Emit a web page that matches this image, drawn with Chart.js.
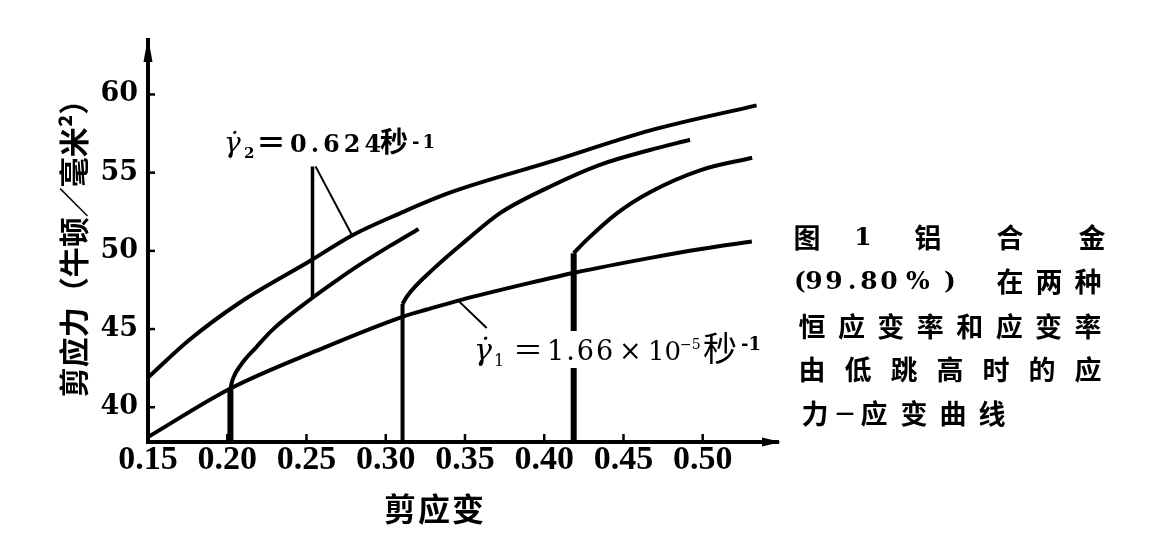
<!DOCTYPE html>
<html>
<head>
<meta charset="utf-8">
<script src="https://cdn.jsdelivr.net/npm/chart.js@4.4.1/dist/chart.umd.min.js"></script>
<style>
  html, body { margin: 0; padding: 0; background: #ffffff; }
  #wrap { width: 1163px; height: 536px; position: relative; }
</style>
</head>
<body>
<div id="wrap"><canvas id="c" width="1163" height="536"></canvas></div>
<script>
// ---------------- data ----------------
// constant high strain rate  γ2 = 0.624 s^-1
const strainA = [0.150, 0.176, 0.208, 0.253, 0.279, 0.309, 0.340, 0.404, 0.467, 0.534];
const stressA = [41.9, 44.3, 46.7, 49.4, 51.0, 52.4, 53.7, 55.7, 57.7, 59.3];
// constant low strain rate  γ1 = 1.66e-5 s^-1
const strainB = [0.150, 0.202, 0.256, 0.311, 0.326, 0.347, 0.391, 0.419, 0.467, 0.498, 0.531];
const stressB = [38.1, 41.2, 43.6, 45.8, 46.25, 46.85, 47.95, 48.6, 49.55, 50.1, 50.6];
// rate jump (low -> high) at strain 0.20
const strainC = [0.202, 0.2035, 0.2085, 0.2184, 0.2285, 0.2538, 0.2689, 0.2834, 0.3024, 0.3207];
const stressC = [41.2, 41.8, 42.7, 43.85, 44.95, 47.0, 48.1, 49.1, 50.3, 51.4];
// rate jump at strain 0.31
const strainD = [0.3106, 0.3135, 0.3296, 0.3511, 0.3719, 0.4035, 0.4351, 0.4667, 0.4920];
const stressD = [46.6, 47.1, 48.8, 50.7, 52.4, 54.1, 55.5, 56.45, 57.1];
// rate jump at strain 0.415
const strainE = [0.4186, 0.4268, 0.4458, 0.4667, 0.4983, 0.5312];
const stressE = [49.85, 50.7, 52.4, 53.75, 55.15, 55.95];
// vertical lines marking the jump strains (from the axis up to the start of each jump curve)
const jumpStrain = [0.2020, 0.3106, 0.4186];
const jumpTop = [41.2, 46.6, 49.85];
// leader lines of the two rate labels
const leader2VertX = [0.2538, 0.2538];
const leader2VertY = [55.4, 47.0];
const leader2DiagX = [0.2557, 0.2790];
const leader2DiagY = [55.4, 50.95];
const leader1X = [0.3454, 0.3637];
const leader1Y = [46.85, 45.07];
// axes
const X_MIN = 0.15, X_MAX = 0.5475, X_STEP = 0.05;
const Y_MIN = 37.78, Y_MAX = 63.48, Y_STEP = 5;
const yTitle = '剪应力（牛顿／毫米²）';
const xTitle = '剪应变';
const captionRows = [
  ['图', '1', '铝', '合', '金'],
  ['(', '9', '9', '.', '8', '0', '%', ')', '在', '两', '种'],
  ['恒', '应', '变', '率', '和', '应', '变', '率'],
  ['由', '低', '跳', '高', '时', '的', '应'],
  ['力', '一', '应', '变', '曲', '线']
];

// ---------------- helpers ----------------
function pts(xs, ys) { return xs.map((v, i) => ({ x: v, y: ys[i] })); }
const curve = { borderColor: '#000', borderWidth: 4, pointRadius: 0, pointHitRadius: 0,
                cubicInterpolationMode: 'monotone', fill: false };
const straight = { borderColor: '#000', pointRadius: 0, pointHitRadius: 0, tension: 0, fill: false };

const CJK = '"Noto Sans CJK SC", sans-serif';
const SERIF = '"DejaVu Serif", serif';

function txt(ctx, t, x, y, font, align, base, ls) {
  ctx.font = font;
  ctx.textAlign = align || 'left';
  ctx.textBaseline = base || 'alphabetic';
  ctx.letterSpacing = ls || '0px';
  ctx.fillText(t, x, y);
  ctx.letterSpacing = '0px';
}

const decor = {
  id: 'decor',
  afterDatasetsDraw(chart) {
    const { ctx } = chart;
    const xs = chart.scales.x, ys = chart.scales.y;
    const x0 = xs.getPixelForValue(X_MIN), xr = xs.getPixelForValue(X_MAX);
    const yb = ys.getPixelForValue(Y_MIN), yt = ys.getPixelForValue(Y_MAX);
    ctx.save();
    ctx.fillStyle = '#000';
    ctx.strokeStyle = '#000';
    // arrow heads
    ctx.beginPath(); ctx.moveTo(xr + 3, yb); ctx.lineTo(xr - 16, yb - 4.5); ctx.lineTo(xr - 16, yb + 4.5); ctx.closePath(); ctx.fill();
    ctx.beginPath(); ctx.moveTo(x0, yt - 3); ctx.lineTo(x0 - 4.5, yt + 22); ctx.lineTo(x0 + 4.5, yt + 22); ctx.closePath(); ctx.fill();
    // inward tick marks
    ctx.lineWidth = 2.5;
    xs.ticks.forEach(t => {
      if (t.value <= X_MIN + 1e-9) return;
      const p = xs.getPixelForValue(t.value);
      ctx.beginPath(); ctx.moveTo(p, yb); ctx.lineTo(p, yb - 8); ctx.stroke();
    });
    ys.ticks.forEach(t => {
      const p = ys.getPixelForValue(t.value);
      ctx.beginPath(); ctx.moveTo(x0, p); ctx.lineTo(x0 + 7, p); ctx.stroke();
    });

    // label  γ2 = 0.624 秒^-1
    txt(ctx, 'γ̇', 224, 152, 'italic 28px ' + SERIF);
    txt(ctx, '2', 244, 158, 'bold 15px ' + SERIF);
    txt(ctx, '＝', 256, 153, 'bold 30px ' + CJK);
    txt(ctx, '0.624', 290, 152, 'bold 24px ' + SERIF, 'left', 'alphabetic', '4px');
    txt(ctx, '秒', 380, 152, 'bold 28px ' + CJK);
    txt(ctx, '-1', 412, 148, 'bold 18px ' + SERIF, 'left', 'alphabetic', '3px');

    // label  γ1 = 1.66×10^-5 秒^-1  (white box leaves the gap in the 0.415 line)
    ctx.fillStyle = '#fff';
    ctx.fillRect(471, 331, 312, 37);
    ctx.fillStyle = '#000';
    txt(ctx, 'γ̇', 474, 360, 'italic 30px ' + SERIF);
    txt(ctx, '1', 494, 366, '16px ' + SERIF);
    txt(ctx, '＝', 513, 361, '30px ' + CJK);
    txt(ctx, '1.66', 547, 360, '27px ' + SERIF, 'left', 'alphabetic', '2px');
    txt(ctx, '×', 619, 360, '27px ' + SERIF);
    txt(ctx, '10', 648, 360, '26px ' + SERIF);
    txt(ctx, '−5', 680, 349, '14px ' + SERIF);
    txt(ctx, '秒', 703, 361, '34px ' + CJK);
    txt(ctx, '-1', 741, 350, 'bold 18px ' + SERIF);

    // x-axis title
    txt(ctx, xTitle, 435, 509, 'bold 32px ' + CJK, 'center', 'middle', '2px');

    // caption
    const capFont = 'bold 27px ' + CJK;
    const digFont = 'bold 25px ' + SERIF;
    const rowY = [238, 282, 327, 370, 414];
    const rowX = [
      [807, 863, 928, 1010, 1092],
      [800, 814, 834, 852, 869, 889, 918, 950, 1010, 1049, 1088],
      null, null,
      [815, 845, 874, 914, 953, 992]
    ];
    captionRows.forEach((row, r) => {
      let xsPos = rowX[r];
      if (!xsPos) {
        const a = 812, b = 1088;
        xsPos = row.map((_, i) => a + (b - a) * i / (row.length - 1));
      }
      row.forEach((ch, i) => {
        const isLatin = /[0-9.%()]/.test(ch);
        const f = isLatin ? digFont : (ch === '一' ? 'bold 18px ' + CJK : capFont);
        txt(ctx, ch, xsPos[i], rowY[r], f, 'center', 'middle');
      });
    });
    ctx.restore();
  }
};

// ---------------- chart ----------------
new Chart(document.getElementById('c'), {
  type: 'line',
  data: {
    datasets: [
      Object.assign({ label: 'γ2 恒应变率', data: pts(strainA, stressA) }, curve),
      Object.assign({ label: 'γ1 恒应变率', data: pts(strainB, stressB) }, curve),
      Object.assign({ label: '0.20 跳高', data: pts(strainC, stressC) }, curve),
      Object.assign({ label: '0.31 跳高', data: pts(strainD, stressD) }, curve),
      Object.assign({ label: '0.415 跳高', data: pts(strainE, stressE) }, curve),
      Object.assign({ label: 'jump 0.20', data: pts([jumpStrain[0], jumpStrain[0]], [Y_MIN, jumpTop[0]]), borderWidth: 6 }, straight),
      Object.assign({ label: 'jump 0.31', data: pts([jumpStrain[1], jumpStrain[1]], [Y_MIN, jumpTop[1]]), borderWidth: 4 }, straight),
      Object.assign({ label: 'jump 0.415', data: pts([jumpStrain[2], jumpStrain[2]], [Y_MIN, jumpTop[2]]), borderWidth: 6 }, straight),
      Object.assign({ label: 'leader γ2 a', data: pts(leader2VertX, leader2VertY), borderWidth: 3.5 }, straight),
      Object.assign({ label: 'leader γ2 b', data: pts(leader2DiagX, leader2DiagY), borderWidth: 2 }, straight),
      Object.assign({ label: 'leader γ1', data: pts(leader1X, leader1Y), borderWidth: 2 }, straight)
    ]
  },
  options: {
    responsive: false,
    animation: false,
    devicePixelRatio: 1,
    layout: { padding: { left: 0, top: 40, right: 385, bottom: 0 } },
    plugins: { legend: { display: false }, tooltip: { enabled: false } },
    scales: {
      x: {
        type: 'linear', min: X_MIN, max: X_MAX,
        grid: { display: false, drawTicks: false },
        border: { display: true, color: '#000', width: 4 },
        ticks: {
          stepSize: X_STEP, includeBounds: false, autoSkip: false, maxRotation: 0,
          color: '#000', padding: 1,
          font: { family: '"Liberation Serif", serif', size: 34, weight: 'bold', lineHeight: 1 },
          callback: v => Number(v).toFixed(2)
        },
        afterFit: s => { s.height = 94; }
      },
      y: {
        type: 'linear', min: Y_MIN, max: Y_MAX,
        grid: { display: false, drawTicks: false },
        border: { display: true, color: '#000', width: 4 },
        ticks: {
          stepSize: Y_STEP, includeBounds: false, color: '#000', padding: 10,
          font: { family: '"DejaVu Serif", serif', size: 27, weight: 'bold', lineHeight: 1 }
        },
        title: {
          display: true, text: yTitle, color: '#000',
          font: { family: '"Noto Sans CJK SC", sans-serif', size: 30, weight: 'bold', lineHeight: 1 },
          padding: { top: 59, bottom: 0 }
        },
        afterFit: s => { s.width = 148; }
      }
    }
  },
  plugins: [decor]
});
</script>
</body>
</html>
